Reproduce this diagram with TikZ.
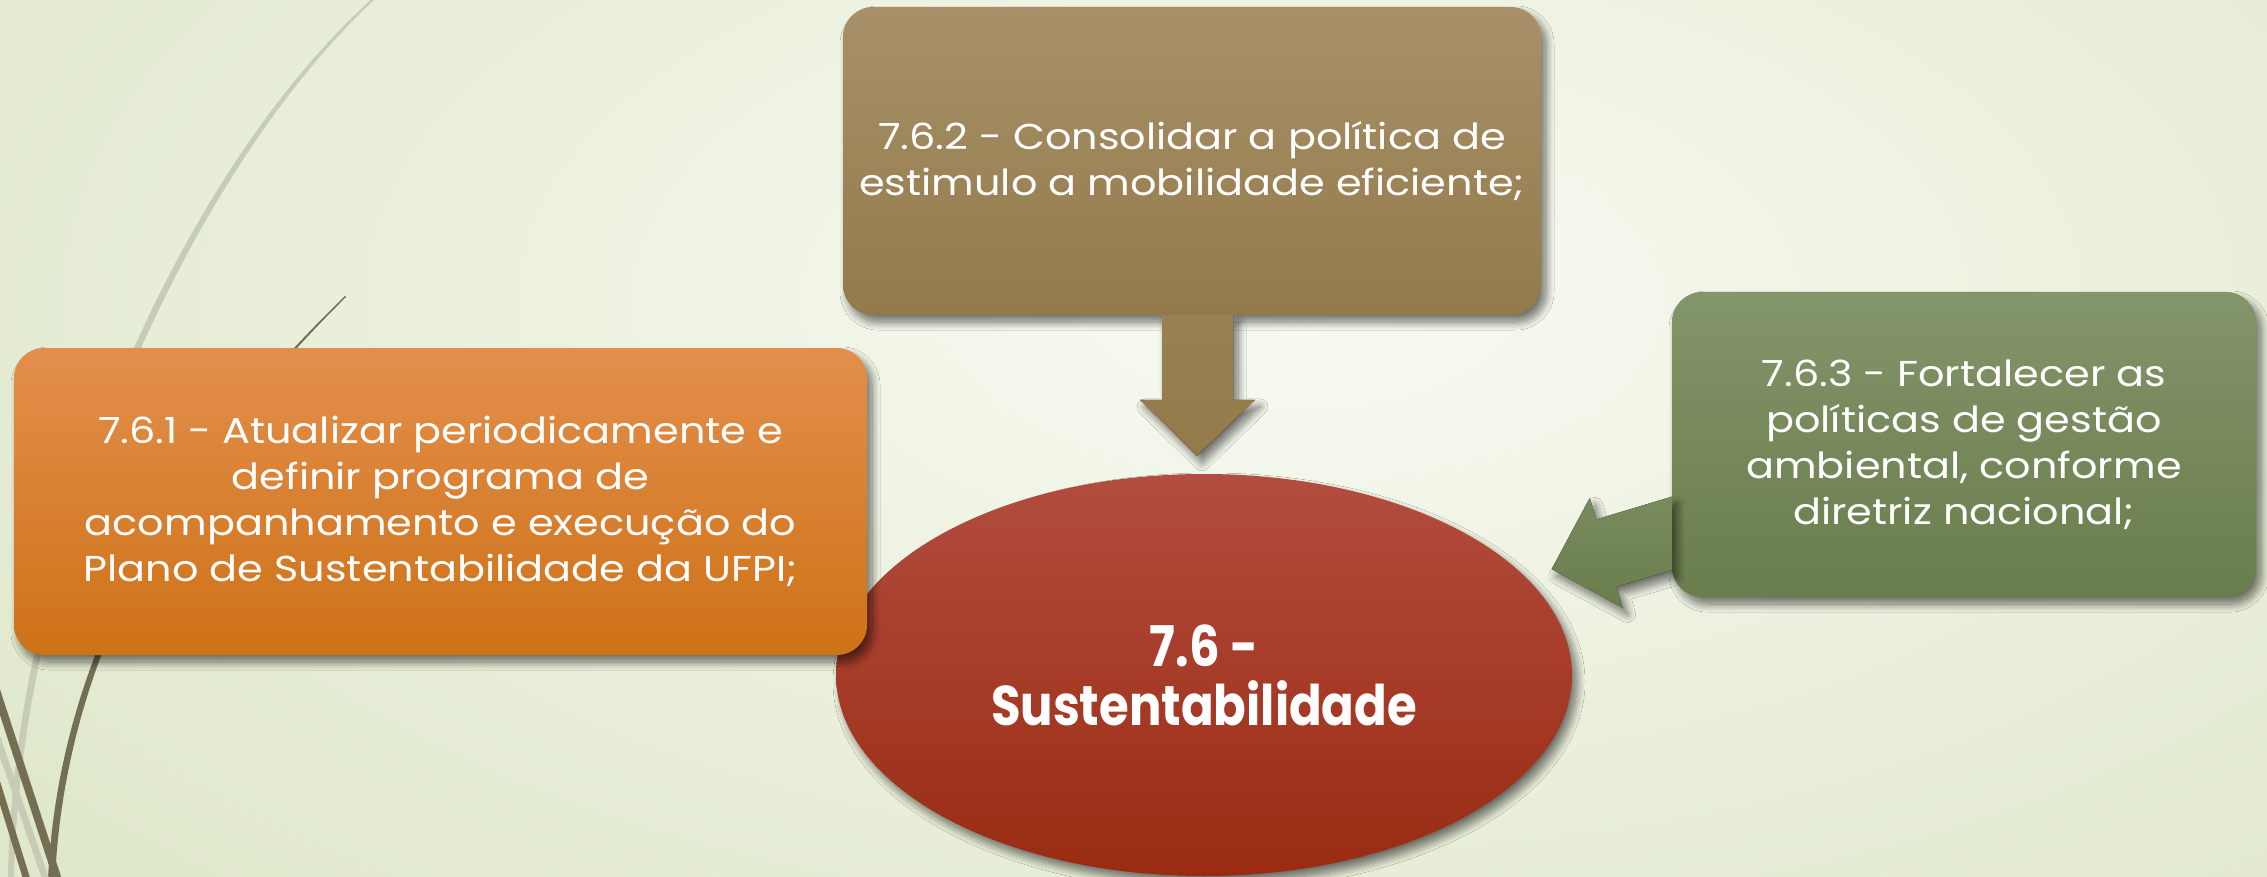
\documentclass[tikz,border=0pt]{standalone}
\usepackage{fontspec}
\setmainfont{Poppins}[FakeStretch=1.15]
\newfontfamily\narrowbold{Poppins}[FakeStretch=0.86]
\usetikzlibrary{shadows.blur,calc,shapes.geometric}
\definecolor{bgin}{HTML}{F8FAF2}
\definecolor{bgout}{HTML}{E0E8CC}
\definecolor{tanT}{HTML}{A89169}
\definecolor{tanB}{HTML}{927A4A}
\definecolor{orT}{HTML}{E38F4C}
\definecolor{orB}{HTML}{CE7217}
\definecolor{grT}{HTML}{83956A}
\definecolor{grB}{HTML}{6A7D4C}
\definecolor{redT}{HTML}{B24D3F}
\definecolor{redB}{HTML}{9A2B12}
\definecolor{darkline}{HTML}{746F53}
\definecolor{lightline}{HTML}{C8CCB5}
\tikzset{
  dropshadow/.style={blur shadow={shadow xshift=5pt, shadow yshift=-7pt, shadow blur radius=8pt, shadow blur steps=12, shadow opacity=55}},
  boxnode/.style={rectangle, rounded corners=30pt, inner sep=0pt, align=center, text=white,
    font=\fontsize{36}{46}\selectfont, dropshadow},
}
\begin{document}
\begin{tikzpicture}[x=1pt,y=-1pt]
\useasboundingbox (0,0) rectangle (2267,877);

% background and decoration
\begin{scope}
\clip (0,0) rectangle (2267,877);
\shade[inner color=bgin, outer color=bgout] (-300,-500) rectangle (2900,1100);
% light arc
\fill[lightline] (373,-2) .. controls (175,175) and (12,560) .. (8,879)
  -- (14,879) .. controls (20,560) and (182,178) .. (376,-2) -- cycle;
% dark thin-to-thick arc
\fill[darkline] (345,296) .. controls (201,436) and (60,627) .. (48,879)
  -- (55,879) .. controls (67,627) and (204,438) .. (346,297) -- cycle;
% straight bands at the lower left
\draw[darkline, line width=8pt] (-4,690) -- (58,880);
\draw[lightline, line width=7pt] (-4,735) -- (46,880);
\draw[darkline, line width=7pt] (-4,780) -- (27,880);
\end{scope}

% centre ellipse and boxes
\node[ellipse, inner sep=0pt, minimum width=736pt, minimum height=402pt, top color=redT, bottom color=redB,
  dropshadow, text=white, align=center, font=\narrowbold\bfseries\fontsize{56}{62}\selectfont] (ell) at (1204,675)
  {7.6 -\\[-3pt]Sustentabilidade};
\node[boxnode, minimum width=853pt, minimum height=307pt, top color=orT, bottom color=orB] (b1) at (440.5,501.5)
  {7.6.1 - Atualizar periodicamente e\\ definir programa de\\ acompanhamento e execução do\\ Plano de Sustentabilidade da UFPI;};
\node[boxnode, minimum width=698pt, minimum height=308pt, top color=tanT, bottom color=tanB] (b2) at (1192,161)
  {7.6.2 - Consolidar a política de\\ estimulo a mobilidade eficiente;};
\node[boxnode, minimum width=584pt, minimum height=305pt, top color=grT, bottom color=grB] (b3) at (1964,444.5)
  {7.6.3 - Fortalecer as\\ políticas de gestão\\ ambiental, conforme\\ diretriz nacional;};

% block arrows, from box edge to the ellipse
\coordinate (s2) at ($(b2.south)+(5,0)$);
\coordinate (t2) at ($(s2 |- ell.north)+(0,-18)$);
\fill[top color=tanB!70!tanT, bottom color=tanB, dropshadow]
  ($(s2)+(-35,0)$) -- ($(t2)+(-35,-56)$) -- ($(t2)+(-57,-56)$) -- (t2)
  -- ($(t2)+(58,-56)$) -- ($(t2)+(36,-56)$) -- ($(s2)+(36,0)$) -- cycle;
\coordinate (t3) at ($(b3.south west)+(-120,-28)$);
\fill[top color=grT!60!grB, bottom color=grB, dropshadow]
  (t3) -- ($(t3)+(38,-71)$) -- ($(t3)+(44.6,-49.8)$) -- ($(t3)+(120,-72.5)$)
  -- ($(t3)+(120,1)$) -- ($(t3)+(64.6,17.4)$) -- ($(t3)+(70.8,38.4)$) -- cycle;
\end{tikzpicture}
\end{document}
